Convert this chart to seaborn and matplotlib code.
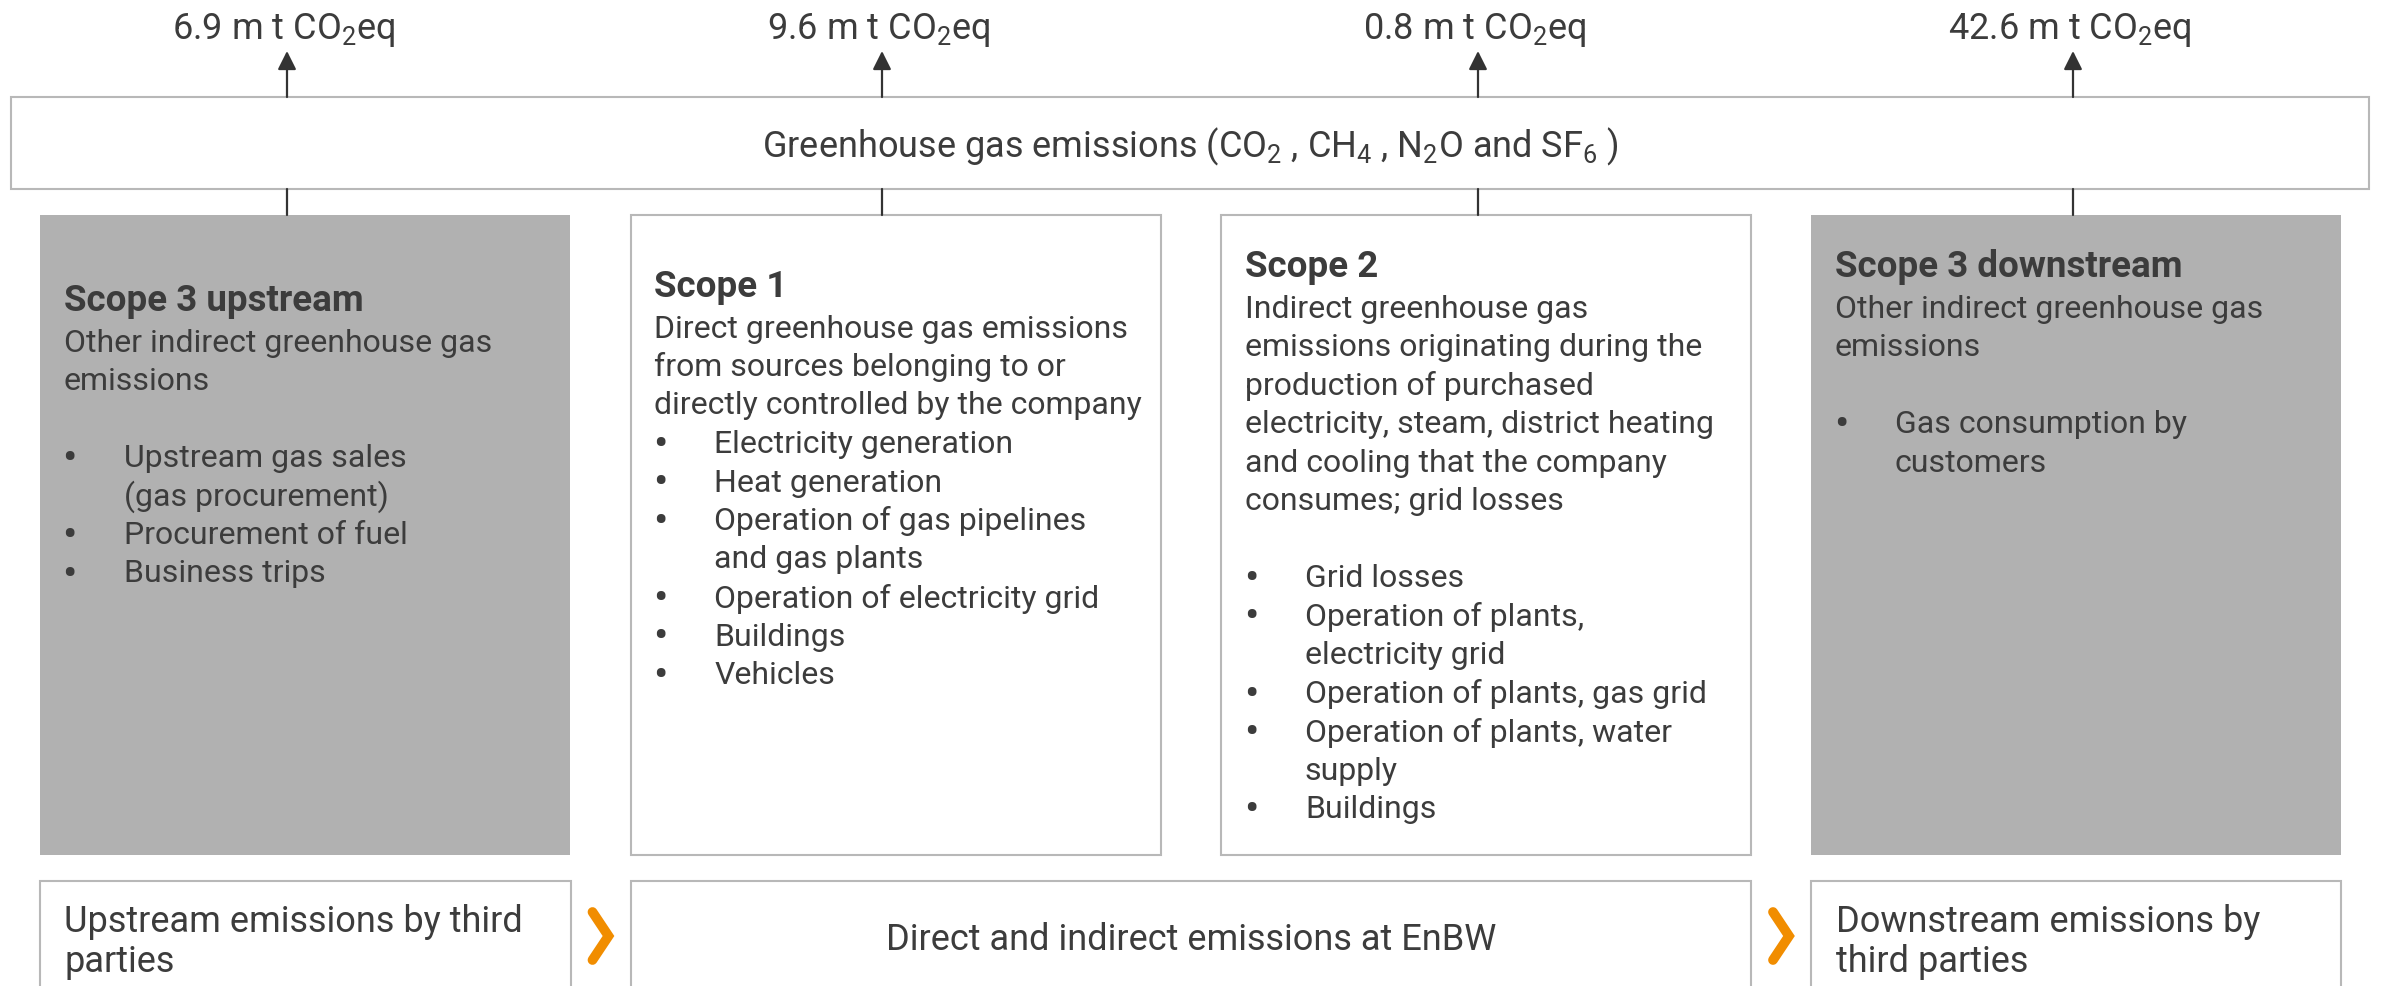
import matplotlib
matplotlib.use("Agg")
import matplotlib.pyplot as plt
import seaborn as sns
from matplotlib.patches import Rectangle

# Werte und Texte
emission_values = [6.9, 9.6, 0.8, 42.6]
emission_unit = "m t CO$_2$eq"
gases_label = "Greenhouse gas emissions (CO$_2$ , CH$_4$ , N$_2$O and SF$_6$ )"
scope_titles = ["Scope 3 upstream", "Scope 1", "Scope 2", "Scope 3 downstream"]
scope_descriptions = [
    ["Other indirect greenhouse gas", "emissions"],
    ["Direct greenhouse gas emissions", "from sources belonging to or",
     "directly controlled by the company"],
    ["Indirect greenhouse gas", "emissions originating during the",
     "production of purchased", "electricity, steam, district heating",
     "and cooling that the company", "consumes; grid losses"],
    ["Other indirect greenhouse gas", "emissions"],
]
scope_bullets = [
    [["Upstream gas sales", "(gas procurement)"], ["Procurement of fuel"], ["Business trips"]],
    [["Electricity generation"], ["Heat generation"],
     ["Operation of gas pipelines", "and gas plants"],
     ["Operation of electricity grid"], ["Buildings"], ["Vehicles"]],
    [["Grid losses"], ["Operation of plants,", "electricity grid"],
     ["Operation of plants, gas grid"], ["Operation of plants, water", "supply"],
     ["Buildings"]],
    [["Gas consumption by", "customers"]],
]
bottom_labels = [
    ["Upstream emissions by third", "parties"],
    ["Direct and indirect emissions at EnBW"],
    ["Downstream emissions by", "third parties"],
]

# Layout (Pixel)
W, H = 2381, 987
arrow_x = [287, 882, 1478, 2073]
box_left = [39.5, 630.5, 1221, 1811]
box_w = 530
box_top, box_bot = 216, 856
title_off = [85, 71, 51, 51]
gap_after_desc = [True, False, True, True]
shaded = [True, False, False, True]
bottom_spans = [(39.5, 570.5), (630.5, 1751), (1811, 2341)]
line_h = 38.5

TXT = "#3c3c3c"
EDGE = "#b8b8b8"
GRAY = "#b1b1b1"
ORANGE = "#f18d00"

sns.set_theme(style="white")
plt.rcParams["font.family"] = ["Roboto", "DejaVu Sans"]
plt.rcParams["mathtext.fontset"] = "custom"
plt.rcParams["mathtext.rm"] = "Roboto"
plt.rcParams["mathtext.default"] = "regular"

fig = plt.figure(figsize=(W / 100, H / 100), dpi=100)
ax = fig.add_axes([0, 0, 1, 1])
ax.set_xlim(0, W)
ax.set_ylim(H, 0)
ax.axis("off")

# Oberer Rahmen
ax.add_patch(Rectangle((11, 98), 2358, 92, facecolor="white", edgecolor=EDGE, lw=1.5))
ax.text(1190, 147, gases_label, ha="center", va="center", fontsize=26, color=TXT)

for x, v in zip(arrow_x, emission_values):
    ax.annotate("", xy=(x, 52), xytext=(x, 98),
                arrowprops=dict(arrowstyle="-|>,head_length=0.4,head_width=0.2",
                                color="#333333", lw=1.6, mutation_scale=28,
                                shrinkA=0, shrinkB=0))
    ax.plot([x, x], [190, box_top], color="#333333", lw=1.6)
    ax.text(x - 3, 39, f"{v} {emission_unit}", ha="center", va="baseline",
            fontsize=26, color=TXT)

# Scope-Kaesten
for i, title in enumerate(scope_titles):
    x0 = box_left[i]
    if shaded[i]:
        ax.add_patch(Rectangle((x0, box_top), box_w, box_bot - box_top,
                               facecolor=GRAY, edgecolor="none"))
    else:
        ax.add_patch(Rectangle((x0, box_top), box_w, box_bot - box_top,
                               facecolor="white", edgecolor=EDGE, lw=1.5))
    tx = x0 + 24
    y = box_top + title_off[i]
    ax.text(tx, y, title, ha="left", va="center", fontsize=26.5,
            fontweight="bold", color=TXT)
    y += 42
    for line in scope_descriptions[i]:
        ax.text(tx, y, line, ha="left", va="center", fontsize=23, color=TXT)
        y += line_h
    if gap_after_desc[i]:
        y += line_h
    for bullet in scope_bullets[i]:
        ax.text(tx - 1, y + 1, "\u2022", ha="left", va="center", fontsize=31, color=TXT)
        for line in bullet:
            ax.text(tx + 60, y, line, ha="left", va="center", fontsize=23, color=TXT)
            y += line_h

# Untere Kaesten
for (a, b), lines in zip(bottom_spans, bottom_labels):
    ax.add_patch(Rectangle((a, 882), b - a, 140, facecolor="white",
                           edgecolor=EDGE, lw=1.5))
    if len(lines) == 1:
        ax.text((a + b) / 2, 940, lines[0], ha="center", va="center",
                fontsize=26, color=TXT)
    else:
        for k, line in enumerate(lines):
            ax.text(a + 25, 922 + k * 40, line, ha="left", va="center",
                    fontsize=26, color=TXT)

# Orange Pfeile zwischen den Kaesten
for k in range(len(bottom_spans) - 1):
    cx = (bottom_spans[k][1] + bottom_spans[k + 1][0]) / 2
    ax.plot([cx - 8, cx + 8, cx - 8], [913, 937, 961], color=ORANGE, lw=7,
            solid_capstyle="round", solid_joinstyle="miter")

fig.savefig("out.png", dpi=100)
